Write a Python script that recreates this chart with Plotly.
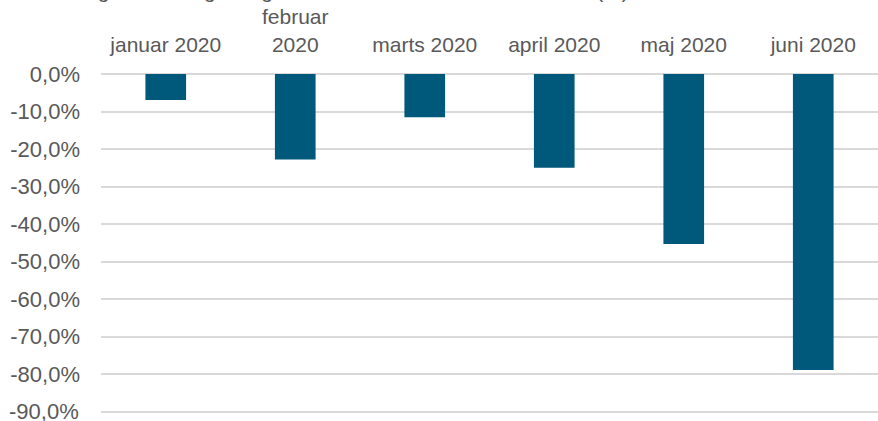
import plotly.graph_objects as go

categories = ["januar 2020", "februar<br>2020", "marts 2020", "april 2020", "maj 2020", "juni 2020"]
values = [-6.9, -22.8, -11.5, -25.0, -45.3, -78.9]
tick_vals = [0, -10, -20, -30, -40, -50, -60, -70, -80, -90]
tick_text = ["0,0%", "-10,0%", "-20,0%", "-30,0%", "-40,0%", "-50,0%", "-60,0%", "-70,0%", "-80,0%", "-90,0%"]
title_text = "Ændring i antal solgte sager i forhold til samme måned 2019 (%)"

W, H = 878, 421
ML, MR, MT, MB = 101, 0, 74, 0
plot_h = H - MT - MB
px_per_unit = 3.75
y_bottom = -plot_h / px_per_unit
tick_font = dict(family="Liberation Sans, Arial", size=22, color="#595959")

fig = go.Figure(go.Bar(
    x=categories, y=values,
    marker=dict(color="#00587a", line=dict(width=0)),
))

fig.add_annotation(
    text=title_text, xref="paper", yref="paper",
    x=(28 - ML) / (W - ML - MR), y=1 + (MT - 4) / plot_h,
    xanchor="left", yanchor="bottom", showarrow=False,
    font=dict(family="Liberation Sans, Arial", size=21, color="#595959"),
)

# the bottom tick label sits at the page edge, where plotly hides tick labels;
# draw it as an annotation anchored on the y axis value instead
fig.add_annotation(
    text=tick_text[-1], xref="paper", yref="y",
    x=0, y=tick_vals[-1], xanchor="right", yanchor="middle",
    xshift=-20, showarrow=False, font=tick_font,
)

fig.update_layout(
    width=W, height=H,
    margin=dict(l=ML, r=MR, t=MT, b=MB, pad=0, autoexpand=False),
    plot_bgcolor="white", paper_bgcolor="white",
    bargap=0.686, showlegend=False,
    font=dict(family="Liberation Sans, Arial", size=21, color="#595959"),
    xaxis=dict(side="top", showgrid=False, showline=False, ticks="",
               tickfont=dict(size=21, color="#595959"), tickangle=0,
               ticklabelstandoff=17, automargin=False),
    yaxis=dict(range=[y_bottom, 0], tickvals=tick_vals, ticktext=tick_text,
               showgrid=True, gridcolor="#d9d9d9", gridwidth=1.5,
               zeroline=True, zerolinecolor="#d9d9d9", zerolinewidth=1.5,
               showline=False, ticks="", ticklabelstandoff=20,
               tickfont=tick_font, automargin=False),
)

fig.write_html("out.html", config={"displayModeBar": False},
               post_script="document.body.style.margin='0px';")
